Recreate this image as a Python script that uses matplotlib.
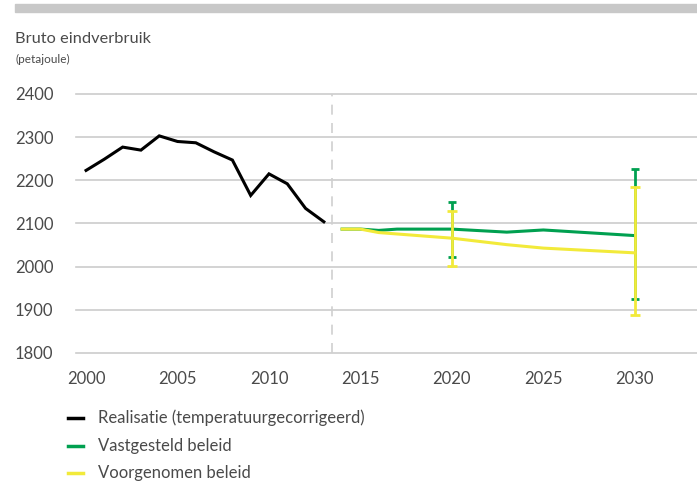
import numpy as np
import matplotlib
matplotlib.use('Agg')
import matplotlib.pyplot as plt

plt.rcParams['font.family'] = ['Lato', 'DejaVu Sans']

################################### Data ######################################

# Realisatie (temperatuurgecorrigeerd)
jaren_real = [2000, 2001, 2002, 2003, 2004, 2005, 2006, 2007, 2008, 2009,
              2010, 2011, 2012, 2013]
waarde_real = [2223, 2249, 2277, 2270, 2303, 2290, 2287, 2266, 2247, 2165,
               2215, 2192, 2135, 2104]

# Vastgesteld beleid
jaren_vast = [2014, 2015, 2016, 2017, 2020, 2023, 2025, 2030]
waarde_vast = [2087, 2087, 2084, 2087, 2087, 2080, 2085, 2072]

# Voorgenomen beleid
jaren_voor = [2014, 2015, 2016, 2020, 2023, 2025, 2030]
waarde_voor = [2087, 2087, 2079, 2066, 2051, 2043, 2032]

# Bandbreedtes (onder, boven)
band_jaren = [2020, 2030]
band_vast_onder = [2023, 1924]
band_vast_boven = [2150, 2226]
band_voor_onder = [2001, 1888]
band_voor_boven = [2129, 2185]

scheiding = 2013.45

yticks = [1800, 1900, 2000, 2100, 2200, 2300, 2400]
xticks = [2000, 2005, 2010, 2015, 2020, 2025, 2030]

legend_labels = ['Realisatie (temperatuurgecorrigeerd)', 'Vastgesteld beleid',
                 'Voorgenomen beleid']

################################## Plotting ###################################

zwart = '#000000'
groen = '#00a050'
geel = '#f2ea3a'
tekst = '#4a4a4a'

fig = plt.figure(figsize=(6.97, 4.83), dpi=100)
ax = fig.add_axes([76 / 697, 1 - 353 / 483, 1 - 76 / 697, (353 - 94) / 483])

for yv in yticks:
    ax.axhline(yv, color='#cccccc', lw=1.2, zorder=1, clip_on=False)
ax.axvline(scheiding, color='#d0d0d0', lw=1.2, dashes=(6, 5), zorder=1)

ax.plot(jaren_real, waarde_real, color=zwart, lw=2.2, zorder=4,
        solid_joinstyle='miter')

# bandbreedte: eerst groen, geel erover
for i, jr in enumerate(band_jaren):
    half = (band_vast_boven[i] - band_vast_onder[i]) / 2
    ax.errorbar(jr, band_vast_onder[i] + half, yerr=half,
                fmt='none', ecolor=groen, elinewidth=2, capsize=3.2,
                capthick=2, zorder=2)
ax.plot(jaren_vast, waarde_vast, color=groen, lw=2.2, zorder=3)
for i, jr in enumerate(band_jaren):
    half = (band_voor_boven[i] - band_voor_onder[i]) / 2
    ax.errorbar(jr, band_voor_onder[i] + half, yerr=half,
                fmt='none', ecolor=geel, elinewidth=2, capsize=3.5,
                capthick=2, zorder=3.5)
ax.plot(jaren_voor, waarde_voor, color=geel, lw=2.2, zorder=3.2)

ax.set_xlim(1999.45, 2033.4)
ax.set_ylim(1800, 2400)
for s in ax.spines.values():
    s.set_visible(False)
ax.set_xticks(xticks)
ax.set_yticks(yticks)
ax.tick_params(length=0, labelsize=12, colors=tekst)
ax.tick_params(axis='x', pad=13)
for lab in ax.get_yticklabels():
    lab.set_horizontalalignment('left')
ax.tick_params(axis='y', pad=44)

# grijze balk en titels
fig.patches.append(plt.Rectangle((15 / 697, 1 - 12 / 483), 1, 8 / 483,
                                 transform=fig.transFigure, color='#c8c8c8'))
fig.text(15 / 697, 1 - 39 / 483, 'Bruto eindverbruik', fontsize=11.8,
         color=tekst, va='center')
fig.text(15 / 697, 1 - 59 / 483, '(petajoule)', fontsize=8.5,
         color=tekst, va='center')

# legenda
for kleur, label, yy in zip([zwart, groen, geel], legend_labels, [418, 446, 473]):
    fig.lines.append(plt.Line2D([68 / 697, 83 / 697], [1 - yy / 483, 1 - yy / 483],
                                transform=fig.transFigure, color=kleur, lw=2.5))
    fig.text(98 / 697, 1 - yy / 483, label, fontsize=12, color=tekst,
             va='center')

plt.savefig('out.png', dpi=100)
